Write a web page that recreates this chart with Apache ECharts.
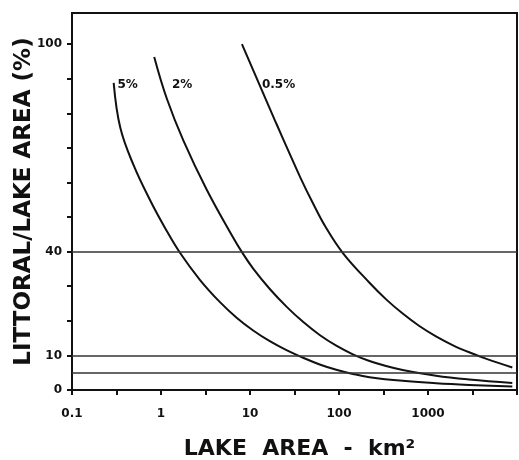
<!DOCTYPE html>
<html>
<head>
<meta charset="utf-8">
<script src="https://cdn.jsdelivr.net/npm/echarts@6/dist/echarts.min.js"></script>
<style>
  html, body { margin: 0; padding: 0; background: #fff; }
  #chart { width: 519px; height: 460px; }
</style>
</head>
<body>
<div id="chart"></div>
<script>
// ---- data ----
const seriesNames = ['5%', '2%', '0.5%'];

const area5 = [0.294, 0.349, 0.492, 0.757, 1.114, 1.641, 2.748, 4.601, 7.077, 10.86, 16.70, 25.70, 39.42, 60.66, 93.29, 143.1, 220.1, 519.5, 1229, 2900, 8858];
const pct5  = [88.8, 75.8, 65.0, 54.8, 46.8, 39.6, 31.8, 25.4, 20.9, 17.2, 14.1, 11.5, 9.33, 7.39, 5.86, 4.64, 3.71, 2.64, 1.97, 1.48, 0.99];

const area2 = [0.839, 1.164, 1.786, 3.266, 6.485, 8.052, 10.86, 16.70, 25.70, 39.42, 60.66, 93.29, 143.1, 220.1, 338.6, 519.5, 1229, 2900, 8858];
const pct2  = [96.3, 84.2, 72.1, 57.9, 44.0, 40.0, 35.1, 29.2, 24.1, 19.7, 15.9, 12.8, 10.3, 8.38, 6.93, 5.77, 4.12, 3.04, 2.03];

const area05 = [8.116, 12.91, 19.86, 28.35, 37.15, 49.34, 70.77, 110.6, 220.1, 338.6, 519.5, 798.8, 1229, 1886, 2900, 4461, 8858];
const pct05  = [100.0, 88.0, 76.9, 67.9, 61.2, 54.7, 47.1, 39.6, 31.0, 26.2, 22.1, 18.5, 15.5, 13.0, 10.9, 9.07, 6.52];

const refLevels = [40, 10, 5];

const xTickLabels = ['0.1', '1', '10', '100', '1000'];
const xTickValues = [0.1, 0.3162, 1, 3.162, 10, 31.62, 100, 316.2, 1000, 3162, 10000];
const yTickValues = [0, 10, 20, 30, 40, 50, 60, 70, 80, 90, 100];
const yTickLabels = [0, 10, 40, 100];

// ---- chart ----
const FONT = 'DejaVu Sans';
const INK = '#111';

function pairs(xs, ys) { return xs.map((x, i) => [x, ys[i]]); }

const curveStyle = { color: INK, width: 2 };

function curve(name, xs, ys, labelArea, extra) {
  return Object.assign({
    name: name,
    type: 'line',
    data: pairs(xs, ys),
    smooth: 0.4,
    showSymbol: false,
    symbol: 'none',
    silent: true,
    lineStyle: curveStyle,
    itemStyle: { color: INK },
    markPoint: {
      symbol: 'circle',
      symbolSize: 0,
      silent: true,
      data: [{ coord: [labelArea, 88.3], value: name }],
      label: {
        show: true,
        position: 'right',
        distance: 0,
        formatter: name,
        color: INK,
        fontFamily: FONT,
        fontWeight: 'bold',
        fontSize: 12
      }
    }
  }, extra || {});
}

const chart = echarts.init(document.getElementById('chart'), null, { renderer: 'canvas' });

chart.setOption({
  animation: false,
  backgroundColor: '#fff',
  grid: {
    left: 72, right: 2, top: 13, bottom: 70,
    containLabel: false,
    outerBoundsMode: 'none',
    show: true, borderColor: INK, borderWidth: 2, backgroundColor: 'transparent'
  },
  xAxis: {
    type: 'log',
    logBase: 10,
    min: 0.1,
    max: 10000,
    name: 'LAKE  AREA  -  km²',
    nameLocation: 'middle',
    nameGap: 48,
    nameMoveOverlap: false,
    nameTextStyle: { fontFamily: FONT, fontWeight: 'bold', fontSize: 22, color: INK, padding: [0, 0, 0, 10] },
    axisLine: { show: true, lineStyle: { color: INK, width: 2 } },
    axisTick: { show: true, customValues: xTickValues, length: 5, lineStyle: { color: INK, width: 2 } },
    axisLabel: {
      show: true,
      margin: 18,
      fontFamily: FONT, fontWeight: 'bold', fontSize: 12, color: INK,
      formatter: function (v) {
        const s = String(Number(v.toPrecision(6)));
        return xTickLabels.indexOf(s) >= 0 ? s : '';
      }
    },
    splitLine: { show: false },
    minorTick: { show: false }
  },
  yAxis: {
    type: 'value',
    min: 0,
    max: 109,
    name: 'LITTORAL/LAKE AREA (%)',
    nameLocation: 'middle',
    nameGap: 36,
    nameMoveOverlap: false,
    nameTextStyle: { fontFamily: FONT, fontWeight: 'bold', fontSize: 23, color: INK },
    axisLine: { show: true, lineStyle: { color: INK, width: 2 } },
    axisTick: { show: true, customValues: yTickValues, length: 5, lineStyle: { color: INK, width: 2 } },
    axisLabel: {
      show: true,
      customValues: yTickLabels,
      margin: 10,
      fontFamily: FONT, fontWeight: 'bold', fontSize: 12, color: INK
    },
    splitLine: { show: false }
  },
  series: [
    curve(seriesNames[0], area5, pct5, 0.324, {
      markLine: {
        silent: true,
        symbol: ['none', 'none'],
        label: { show: false },
        lineStyle: { color: '#333', width: 1.5, type: 'solid' },
        data: refLevels.map(v => ({ yAxis: v }))
      }
    }),
    curve(seriesNames[1], area2, pct2, 1.33),
    curve(seriesNames[2], area05, pct05, 13.6)
  ]
});
</script>
</body>
</html>
